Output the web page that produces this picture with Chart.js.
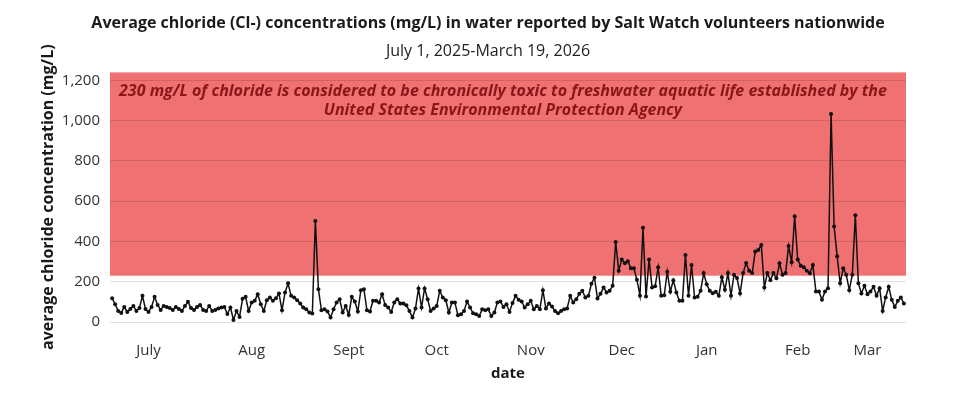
<!DOCTYPE html>
<html>
<head>
<meta charset="utf-8">
<script src="https://cdn.jsdelivr.net/npm/chart.js@4.4.1/dist/chart.umd.min.js"></script>
<style>
  html, body { margin: 0; padding: 0; background: #fff; }
</style>
</head>
<body>
<canvas id="canvas" width="975" height="395"></canvas>
<script>
// month tick labels and the day index (0 = July 1, 2025) each one sits on
const monthLabels = ["July", "Aug", "Sept", "Oct", "Nov", "Dec", "Jan", "Feb", "Mar"];
const monthTickDays = [12, 46, 78, 107, 138, 168, 196, 226, 249];
const yTicks = [0, 200, 400, 600, 800, 1000, 1200];

// daily average chloride (mg/L), July 1 2025 .. March 19 2026
const julyAug = [118,88,55,45,75,50,65,80,55,70,130,65,50,75,125,85,60,80,75,70,60,75,65,55,80,100,70,60,75,85,
  60,55,80,55,60,67,72,75,40,72,10,55,25,115,125,55,97,105,138,88,55,108,122,105,118,142,58,147,192,130,122,108,92,72,63,47];
const septOct = [42,502,163,58,63,52,22,63,97,113,47,80,35,125,102,52,158,163,58,52,105,105,97,138,85,72,50,97,113,
  92,92,83,55,22,67,167,72,167,113,55,67,80,155,122,108,47,97,97,33,38,55,102,72,43,38,30,63,58,63,30,47,97];
const novDec = [102,75,88,50,95,130,110,102,72,88,105,63,80,63,158,67,92,77,55,43,55,63,67,130,97,113,140,155,122,130,
  190,220,117,140,172,147,155,180,397,255,310,292,302,267,267,210,130,468,127,310,172,177,272,130,133,250,150,208,147,105,105,333,130,283];
const janMar = [122,125,155,243,188,155,143,150,130,222,160,243,130,235,218,142,243,293,255,243,350,358,383,172,243,208,243,217,292,235,243,377,297,525,310,
  280,272,255,242,283,152,152,110,152,168,1033,475,327,192,267,235,158,235,530,192,142,180,138,152,175,130,168,55,122,175,110,75,105,122,92];
const chloride = [...julyAug, ...septOct, ...novDec, ...janMar];

const toxicLevel = 230;
const yMax = 1240;

const ctx = document.getElementById("canvas").getContext("2d");

const toxicBand = {
  id: "toxicBand",
  beforeDraw(chart) {
    const { ctx, chartArea: a, scales: { y } } = chart;
    const yTop = y.getPixelForValue(yMax);
    const yBot = y.getPixelForValue(toxicLevel);
    ctx.save();
    ctx.fillStyle = "#f07171";
    ctx.fillRect(a.left, yTop, a.right - a.left, yBot - yTop);
    ctx.restore();
  },
  beforeDatasetsDraw(chart) {
    const { ctx, chartArea: a } = chart;
    const cx = (a.left + a.right) / 2;
    ctx.save();
    ctx.fillStyle = "#8a1717";
    ctx.font = "italic bold 16px 'Open Sans'";
    ctx.textAlign = "center";
    ctx.textBaseline = "middle";
    ctx.fillText("230 mg/L of chloride is considered to be chronically toxic to freshwater aquatic life established by the", cx - 5, a.top + 19);
    ctx.fillText("United States Environmental Protection Agency", cx - 5, a.top + 38);
    ctx.restore();
  }
};

new Chart(ctx, {
  type: "line",
  data: {
    datasets: [
      {
        data: chloride.map((v, i) => ({ x: i, y: v })),
        borderColor: "#111111",
        borderWidth: 1.5,
        pointBackgroundColor: "#111111",
        pointBorderWidth: 0,
        pointRadius: 2,
        tension: 0
      }
    ]
  },
  options: {
    responsive: false,
    animation: false,
    layout: { padding: { left: 36, right: 35, top: 0, bottom: 5 } },
    plugins: {
      legend: { display: false },
      tooltip: { enabled: false },
      title: {
        display: true,
        text: "Average chloride (Cl-) concentrations (mg/L) in water reported by Salt Watch volunteers nationwide",
        color: "#1a1a1a",
        font: { family: "'Open Sans'", size: 16, weight: "bold" },
        padding: { top: 14, bottom: 9 }
      },
      subtitle: {
        display: true,
        text: "July 1, 2025-March 19, 2026",
        color: "#222222",
        font: { family: "'Open Sans'", size: 16 },
        padding: { top: 0, bottom: 11 }
      }
    },
    scales: {
      x: {
        type: "linear",
        min: -0.7,
        max: 261.7,
        afterBuildTicks: (scale) => {
          scale.ticks = monthTickDays.map(v => ({ value: v }));
        },
        afterFit: (scale) => { scale.height = 68; },
        ticks: {
          autoSkip: false,
          maxRotation: 0,
          padding: 20,
          color: "#333333",
          font: { family: "'Open Sans'", size: 15 },
          callback: (v, i) => monthLabels[i]
        },
        grid: { display: false, drawTicks: false },
        border: { display: false },
        title: {
          display: true,
          text: "date",
          color: "#1a1a1a",
          font: { family: "'Open Sans'", size: 15, weight: "bold" },
          padding: { top: 4, bottom: 7 }
        }
      },
      y: {
        min: 0,
        max: yMax,
        afterBuildTicks: (scale) => {
          scale.ticks = yTicks.map(v => ({ value: v }));
        },
        afterFit: (scale) => { scale.width = 74; },
        ticks: {
          padding: 10,
          color: "#333333",
          font: { family: "'Open Sans'", size: 15 },
          callback: (v) => v.toLocaleString("en-US")
        },
        grid: { color: "rgba(0,0,0,0.13)", drawTicks: false },
        border: { display: false },
        title: {
          display: true,
          text: "average chloride concentration (mg/L)",
          color: "#1a1a1a",
          font: { family: "'Open Sans'", size: 16, weight: "bold" },
          padding: { top: 3, bottom: 3 }
        }
      },
      // empty right-hand margin so the titles centre on the whole canvas
      yRight: {
        position: "right",
        min: 0,
        max: yMax,
        afterFit: (scale) => { scale.width = 34; },
        ticks: { display: false },
        grid: { display: false, drawTicks: false },
        border: { display: false }
      }
    }
  },
  plugins: [toxicBand]
});
</script>
</body>
</html>
